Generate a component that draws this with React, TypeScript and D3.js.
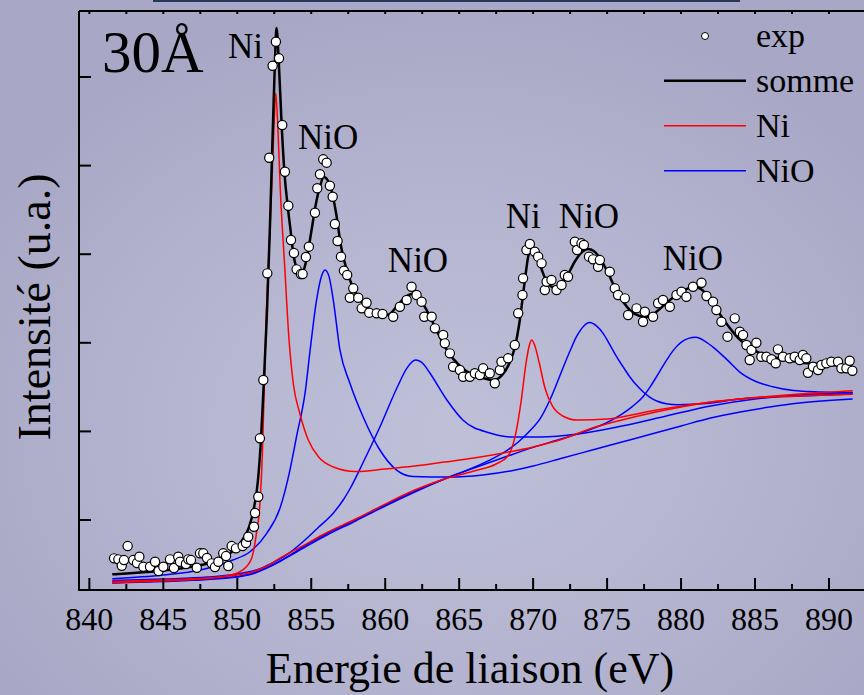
import React from "react";
import * as d3 from "d3";

type P = [number, number];

// ---------- data (binding energy eV, intensity u.a.) ----------
const xTickValues = [840, 845, 850, 855, 860, 865, 870, 875, 880, 885, 890];
const xMinorValues = [842.5, 847.5, 852.5, 857.5, 862.5, 867.5, 872.5, 877.5, 882.5, 887.5];
const yTickValues = [100, 200, 300, 400, 500, 600];
const legendLabels = ["exp", "somme", "Ni", "NiO"];
const sampleLabel = "30Å";
const peakLabels: [string, number, number][] = [
  ["Ni", 849.37, 621.4],
  ["NiO", 854.1, 518.7],
  ["NiO", 860.18, 379.9],
  ["Ni", 868.15, 429.6],
  ["NiO", 871.74, 429.6],
  ["NiO", 878.76, 382.2],
];

const expData: P[] = [
  [841.67, 56.7], [841.96, 55.6], [842.19, 48.4], [842.34, 54.8], [842.59, 70.6], [842.97, 54.8],
  [843.22, 51.4], [843.38, 58.6], [843.65, 47.3], [844.1, 47.3], [844.44, 52.9], [844.68, 42.4],
  [845.0, 47.3], [845.45, 55.6], [845.72, 45.8], [846.01, 58.6], [846.13, 52.9], [846.53, 50.3],
  [846.69, 55.6], [846.87, 54.8], [847.26, 46.1], [847.48, 62.4], [847.7, 62.4], [847.95, 57.1],
  [848.27, 51.1], [848.49, 46.9], [848.72, 52.9], [849.05, 62.4], [849.24, 59.3], [849.39, 48.1],
  [849.62, 70.6], [849.91, 68.0], [850.36, 70.6], [850.59, 74.0], [850.74, 81.1], [851.13, 92.4],
  [851.2, 107.9], [851.42, 126.3], [851.53, 192.2], [851.76, 258.0], [852.03, 378.4], [852.16, 508.9],
  [852.39, 612.7], [852.61, 639.8], [852.82, 621.1], [853.04, 545.8], [853.22, 493.1], [853.45, 454.7],
  [853.63, 416.0], [853.83, 401.3], [854.01, 382.9], [854.3, 377.6], [854.42, 377.6], [854.64, 396.8],
  [854.84, 408.5], [855.25, 446.8], [855.41, 474.4], [855.59, 490.2], [855.81, 507.1], [856.04, 503.3],
  [856.26, 477.3], [856.45, 464.9], [856.6, 434.1], [856.78, 414.9], [857.01, 397.2], [857.21, 381.4],
  [857.43, 376.5], [857.61, 350.9], [857.84, 361.5], [858.18, 350.9], [858.41, 338.9], [858.74, 345.2],
  [858.92, 334.0], [859.42, 333.3], [859.82, 332.5], [860.54, 329.4], [860.99, 340.7], [861.45, 348.3],
  [861.78, 363.3], [862.12, 353.9], [862.46, 346.4], [862.64, 329.4], [863.14, 329.4], [863.36, 316.3],
  [863.92, 308.8], [864.03, 299.4], [864.37, 288.1], [864.59, 273.0], [865.05, 269.3], [865.27, 261.7],
  [865.72, 261.7], [866.06, 265.6], [866.4, 263.6], [866.62, 271.2], [867.07, 265.6], [867.41, 254.3],
  [867.75, 269.3], [867.86, 278.7], [868.31, 282.5], [868.76, 297.5], [868.99, 333.3], [869.28, 353.9],
  [869.32, 372.8], [869.55, 404.7], [869.78, 411.5], [870.11, 402.8], [870.34, 397.2], [870.57, 389.7],
  [870.79, 359.6], [870.91, 368.9], [871.24, 370.9], [871.58, 359.6], [871.92, 365.2], [872.14, 376.5],
  [872.36, 374.6], [872.82, 414.1], [872.97, 404.7], [873.27, 412.3], [873.43, 410.4], [873.78, 397.2],
  [874.05, 394.2], [874.39, 385.9], [874.51, 393.4], [875.18, 380.2], [875.52, 361.5], [875.74, 353.9],
  [876.2, 350.2], [876.42, 331.4], [876.99, 338.9], [877.43, 323.8], [877.55, 335.1], [878.11, 329.4],
  [878.45, 344.6], [878.78, 348.3], [879.24, 340.7], [879.69, 353.9], [880.03, 357.7], [880.36, 352.0],
  [880.81, 363.3], [881.38, 367.8], [881.72, 352.8], [882.16, 346.4], [882.39, 337.0], [882.73, 323.8],
  [883.14, 306.9], [883.63, 327.6], [883.97, 312.5], [884.19, 308.8], [884.42, 297.5], [884.64, 280.6],
  [884.76, 291.9], [885.09, 300.1], [885.43, 284.3], [885.77, 284.3], [886.11, 281.4], [886.4, 276.8],
  [886.55, 292.6], [886.89, 284.3], [887.34, 282.5], [887.68, 284.3], [888.02, 280.6], [888.24, 286.2],
  [888.47, 282.5], [888.58, 266.2], [888.92, 273.0], [889.26, 269.3], [889.49, 274.9], [889.82, 276.8],
  [890.16, 278.7], [890.61, 278.7], [890.84, 271.2], [891.18, 271.2], [891.4, 279.8], [891.58, 268.5],
];

const sumData: P[] = [
  [841.55, 38.7], [843, 40.2], [845, 43.0], [847, 47.5], [848, 50.9], [849, 57.1], [849.7, 65.0],
  [850.3, 76.3], [850.8, 92.1], [851.1, 111.3], [851.4, 145.1], [851.6, 190.3], [851.8, 258.0],
  [852.0, 331.4], [852.2, 427.3], [852.4, 540.2], [852.55, 619.2], [852.65, 655.3], [852.8, 619.2],
  [853.0, 545.8], [853.2, 489.4], [853.4, 455.5], [853.6, 427.3], [853.8, 399.1], [854.0, 384.4],
  [854.2, 377.6], [854.4, 378.8], [854.7, 395.7], [855.0, 425.0], [855.3, 455.5], [855.6, 477.0],
  [855.85, 487.1], [856.1, 483.7], [856.4, 470.2], [856.7, 444.2], [857.0, 410.4], [857.4, 382.2],
  [857.8, 363.0], [858.3, 348.3], [859.0, 337.0], [859.7, 330.2], [860.3, 332.5], [860.8, 341.5],
  [861.3, 350.5], [861.8, 355.1], [862.3, 350.5], [862.8, 337.0], [863.3, 320.1], [863.8, 303.1],
  [864.3, 288.5], [865.0, 274.9], [865.8, 264.8], [866.6, 260.3], [867.3, 258.0], [867.9, 263.6],
  [868.4, 277.2], [868.8, 297.5], [869.1, 325.7], [869.4, 365.2], [869.65, 395.7], [869.85, 408.1],
  [870.1, 404.7], [870.4, 391.2], [870.8, 373.1], [871.3, 363.0], [871.8, 364.1], [872.3, 375.4],
  [872.8, 391.2], [873.3, 402.5], [873.7, 405.9], [874.1, 403.6], [874.6, 393.4], [875.1, 377.6],
  [875.6, 359.6], [876.1, 346.0], [876.6, 335.9], [877.2, 330.2], [877.8, 329.1], [878.4, 335.9],
  [879.0, 344.9], [879.6, 352.8], [880.2, 359.6], [880.8, 362.4], [881.2, 361.8], [881.7, 355.1],
  [882.2, 344.9], [882.7, 330.2], [883.2, 318.9], [883.8, 306.5], [884.5, 296.4], [885.3, 288.5],
  [886.2, 284.0], [887.2, 280.6], [888.3, 277.2], [889.5, 276.1], [890.5, 274.4], [891.6, 273.0],
];

// Ni 2p3/2 component
const niA: P[] = [
  [841.55, 29.2], [844, 30.6], [847, 32.8], [849, 36.2], [850, 40.2], [850.6, 46.9], [851.0, 58.2],
  [851.3, 85.3], [851.5, 111.3], [851.7, 175.6], [851.95, 325.7], [852.15, 404.7], [852.33, 475.8],
  [852.5, 551.5], [852.6, 581.9], [852.75, 540.2], [852.9, 475.8], [853.2, 387.8], [853.5, 303.1],
  [853.8, 252.4], [854.2, 221.9], [854.8, 190.3], [855.5, 171.1], [856.5, 159.8], [858, 154.7],
  [860, 157.5], [862, 160.9], [864, 165.4], [866, 170.0], [868, 175.6], [870, 182.4], [872, 191.4],
  [874, 203.8], [876, 212.9], [878, 220.8], [880, 227.5], [882, 233.2], [884, 236.5], [886, 238.8],
  [888, 239.9], [891.6, 241.9],
];

// Ni 2p1/2 component
const niB: P[] = [
  [841.55, 30.6], [845, 32.3], [848, 34.5], [850, 37.9], [851, 41.3], [852, 48.1], [853, 58.2],
  [854.4, 70.6], [856, 85.3], [858, 101.1], [860, 118.0], [862, 133.8], [864, 146.3], [866, 155.3],
  [867.5, 163.2], [868.3, 172.2], [868.8, 195.9], [869.2, 235.4], [869.5, 274.9], [869.75, 297.5],
  [869.9, 303.1], [870.1, 297.5], [870.4, 278.3], [870.8, 249.0], [871.3, 228.7], [872, 217.4],
  [873, 212.8], [875, 214.0], [878, 223.0], [881, 230.9], [884, 236.5], [888, 242.2], [891.6, 245.9],
];

// NiO components
const nio1: P[] = [
  [841.55, 33.7], [845, 37.9], [847.5, 43.5], [849.7, 54.8], [850.86, 64.2], [851.99, 85.0],
  [852.89, 113.5], [853.56, 156.4], [854.0, 193.7], [854.61, 246.7], [854.91, 289.6], [855.36, 348.3],
  [855.72, 376.5], [855.93, 382.2], [856.2, 375.0], [856.49, 348.3], [856.94, 291.9], [857.61, 254.6],
  [858.51, 216.2], [859.64, 179.0], [860.77, 156.4], [861.89, 149.1], [864.3, 148.5], [866.6, 150.8],
  [868.8, 156.4], [870, 160.9], [872, 170.0], [874, 179.0], [876, 188.0], [878, 197.0], [880, 206.1],
  [882, 215.1], [884, 221.9], [886, 227.5], [888, 232.0], [891.6, 236.6],
];

const nio2: P[] = [
  [841.55, 31.7], [845, 33.4], [848, 35.6], [850, 39.0], [851.5, 44.7], [852.5, 52.6], [853.5, 62.7],
  [854.5, 76.3], [855.51, 92.1], [856.5, 108.0], [857.16, 122.6], [857.61, 135.0], [858.49, 164.3],
  [859.64, 204.9], [860.79, 249.0], [861.47, 271.5], [862.04, 280.6], [862.58, 276.1], [863.02, 265.9],
  [864.17, 235.4], [865.25, 212.8], [867.07, 198.2], [868.63, 193.7], [870.52, 193.7], [873.02, 197.0],
  [876, 206.1], [879, 217.4], [882, 228.7], [885, 236.6], [888, 241.1], [891.6, 243.9],
];

const nio3: P[] = [
  [841.55, 28.9], [845, 30.6], [848, 32.8], [850, 35.6], [851, 39.0], [852, 45.8], [853, 54.3],
  [854, 63.9], [855, 73.5], [856, 82.5], [858, 98.9], [860, 115.8], [862, 131.6], [864, 146.3],
  [865.5, 156.0], [867, 167.0], [868, 176.0], [869, 188.0], [869.8, 201.0], [870.5, 215.0],
  [871.13, 235.4], [871.6, 254.0], [872.03, 272.2], [872.5, 291.0], [872.93, 306.9], [873.4, 318.5],
  [873.8, 322.9], [874.3, 318.9], [874.73, 310.7], [875.2, 297.5], [875.64, 284.3], [876.1, 272.5],
  [876.53, 261.7], [877.0, 252.0], [877.43, 244.8], [877.9, 238.5], [878.4, 234.0], [879.0, 231.3],
  [879.8, 230.2], [881.7, 231.5], [883.97, 236.5], [888, 240.0], [891.6, 242.2],
];

const nio4: P[] = [
  [841.55, 29.4], [845, 31.1], [848, 33.4], [850, 36.2], [851, 39.6], [852, 46.4], [853, 54.8],
  [854, 65.0], [855, 75.2], [856, 84.2], [858, 100.0], [860, 116.9], [862, 132.7], [864, 146.3],
  [866, 158.7], [868, 170.5], [870, 182.0], [872, 192.0], [874, 203.0], [875, 210.0], [876, 219.5],
  [876.7, 228.0], [877.43, 239.2], [877.9, 250.0], [878.34, 261.7], [878.78, 274.0], [879.2, 285.0],
  [879.6, 294.0], [880.0, 300.5], [880.5, 305.0], [881.0, 306.2], [881.6, 302.0], [882.16, 295.2],
  [883.07, 281.6], [883.97, 267.0], [885.1, 256.1], [886.2, 250.4], [887.6, 246.1], [889.5, 244.4],
  [891.6, 243.3],
];

// ---------- layout ----------
const W = 864;
const H = 695;
const left = 79;
const right = 863;
const top = 11;
const bottom = 590;
const FONT = "'Liberation Serif', 'Times New Roman', serif";

export default function App() {
  const x = d3.scaleLinear().domain([839.3, 892.3]).range([left, right]);
  const y = d3.scaleLinear().domain([21.0, 674.5]).range([bottom, top]);
  const line = d3
    .line<P>()
    .x((d) => x(d[0]))
    .y((d) => y(d[1]))
    .curve(d3.curveMonotoneX);

  const blues = [nio1, nio2, nio3, nio4];
  const reds = [niA, niB];
  const legendY = [36, 80.7, 125.7, 170.7];

  return (
    <div style={{ position: "absolute", left: 0, top: 0 }}>
      <svg width={W} height={H} style={{ display: "block" }}>
        <defs>
          <radialGradient id="bg" cx="0.52" cy="0.62" r="0.62">
            <stop offset="0" stopColor="#bfc0d8" />
            <stop offset="0.6" stopColor="#b3b3cf" />
            <stop offset="1" stopColor="#a8a8c6" />
          </radialGradient>
        </defs>
        <rect x={0} y={0} width={W} height={H} fill="url(#bg)" />
        <rect x={153} y={0} width={587} height={2} fill="#24395a" />

        {/* components */}
        {blues.map((d, i) => (
          <path key={"b" + i} d={line(d) || ""} fill="none" stroke="#0000ff" strokeWidth={1.5} />
        ))}
        {reds.map((d, i) => (
          <path key={"r" + i} d={line(d) || ""} fill="none" stroke="#ff0000" strokeWidth={1.5} />
        ))}
        <path d={line(sumData) || ""} fill="none" stroke="#000" strokeWidth={2.5} />
        {expData.map((d, i) => (
          <circle key={"e" + i} cx={x(d[0])} cy={y(d[1])} r={4.6} fill="#fff" stroke="#000" strokeWidth={1.2} />
        ))}

        {/* frame */}
        <g stroke="#000" strokeWidth={2} fill="none">
          <line x1={left} y1={top} x2={W} y2={top} />
          <line x1={left} y1={top} x2={left} y2={bottom} />
          <line x1={left - 1} y1={bottom} x2={W} y2={bottom} />
        </g>
        <g stroke="#000" strokeWidth={2}>
          {xTickValues.map((t) => (
            <line key={"xt" + t} x1={x(t)} x2={x(t)} y1={bottom} y2={bottom - 12} />
          ))}
          {xMinorValues.map((t) => (
            <line key={"xm" + t} x1={x(t)} x2={x(t)} y1={bottom} y2={bottom - 6} />
          ))}
          {xTickValues.concat(xMinorValues).map((t) => (
            <line key={"xtt" + t} x1={x(t)} x2={x(t)} y1={top} y2={top + 3} />
          ))}
          {yTickValues.map((t) => (
            <line key={"yt" + t} x1={left} x2={left + 12} y1={y(t)} y2={y(t)} />
          ))}
        </g>
        <g fontFamily={FONT} fontSize={32} fill="#000" textAnchor="middle">
          {xTickValues.map((t) => (
            <text key={"xl" + t} x={x(t)} y={630}>
              {t}
            </text>
          ))}
        </g>
        <text x={470} y={683} fontFamily={FONT} fontSize={44} textAnchor="middle" fill="#000">
          Energie de liaison (eV)
        </text>
        <text
          transform={`translate(50,307) rotate(-90)`}
          fontFamily={FONT}
          fontSize={46}
          textAnchor="middle"
          fill="#000"
        >
          Intensité (u.a.)
        </text>

        {/* annotations */}
        <text x={102} y={72} fontFamily={FONT} fontSize={59} fill="#000">
          {sampleLabel}
        </text>
        <g fontFamily={FONT} fontSize={35} fill="#000">
          {peakLabels.map(([t, e, v], i) => (
            <text key={"pl" + i} x={x(e)} y={y(v)}>
              {t}
            </text>
          ))}
        </g>

        {/* legend */}
        <g fontFamily={FONT} fontSize={34} fill="#000">
          <circle cx={705} cy={legendY[0]} r={3.5} fill="#fff" stroke="#000" strokeWidth={1} />
          <line x1={664} x2={746} y1={legendY[1]} y2={legendY[1]} stroke="#000" strokeWidth={2.5} />
          <line x1={664} x2={746} y1={legendY[2]} y2={legendY[2]} stroke="#ff0000" strokeWidth={1.5} />
          <line x1={664} x2={746} y1={legendY[3]} y2={legendY[3]} stroke="#0000ff" strokeWidth={1.5} />
          {legendLabels.map((l, i) => (
            <text key={"lg" + i} x={756} y={legendY[i] + 11}>
              {l}
            </text>
          ))}
        </g>
      </svg>
    </div>
  );
}
